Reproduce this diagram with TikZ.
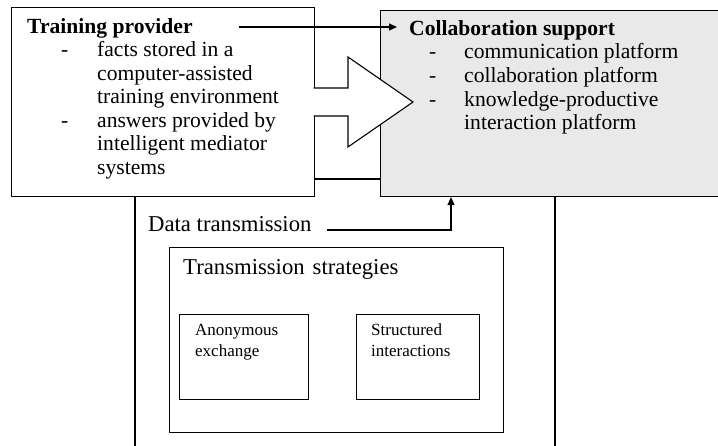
\documentclass[tikz,border=0pt]{standalone}
\usepackage{fontspec}
\setmainfont{Liberation Serif}
\usetikzlibrary{arrows.meta}
\definecolor{panelgray}{HTML}{E9E9E9}
\begin{document}
\begin{tikzpicture}[x=1pt,y=-1pt,
  box/.style={draw, line width=1.1pt, inner sep=0pt, anchor=north west},
  txt/.style={anchor=base west, inner sep=0pt, font=\fontsize{21.6}{23.5}\selectfont},
  big/.style={anchor=base west, inner sep=0pt, font=\fontsize{22.7}{25}\selectfont},
  small/.style={anchor=base west, inner sep=0pt, font=\fontsize{17}{21}\selectfont},
  line/.style={line width=1.1pt},
  arr/.style={line width=1.1pt, -{Triangle[length=8pt,width=7pt]}}]
\useasboundingbox (0,0) rectangle (718,446);

% main panels
\node[box, minimum width=303pt, minimum height=189pt] (train) at (11,7) {};
\node[box, fill=panelgray, minimum width=345pt, minimum height=186pt] (collab) at (380,10) {};

% frame of the data transmission layer
\coordinate (lx) at (135,0);
\coordinate (rx) at (555,0);
\draw[line] (train.south -| lx) -- (135,470);
\draw[line] (collab.south -| rx) -- (555,470);

% link between the two panels
\coordinate (ly) at (0,179);
\draw[line] (train.east |- ly) -- (collab.west |- ly);

% block arrow from provider to support
\fill[white] (312,88) -- (348,88) -- (348,57) -- (413,102) -- (348,147) -- (348,116) -- (312,116) -- cycle;
\draw[line, line join=miter] (313.5,88) -- (348,88) -- (348,57) -- (413,102) -- (348,147) -- (348,116) -- (313.5,116);

% training provider text
\node[txt] (tptitle) at (27,34) {\bfseries Training provider};
\node[txt] (tpd1) at (61,57) {-};
\node[txt] (tp1) at (97,57) {facts stored in a};
\node[txt] (tp2) at (97,80.5) {computer-assisted};
\node[txt] (tp3) at (97,104) {training environment};
\node[txt] (tpd2) at (61,127.5) {-};
\node[txt] (tp4) at (97,127.5) {answers provided by};
\node[txt] (tp5) at (97,151) {intelligent mediator};
\node[txt] (tp6) at (97,174.5) {systems};

% collaboration support text
\node[txt] (cstitle) at (409,36) {\bfseries Collaboration support};
\node[txt] (csd1) at (429,59) {-};
\node[txt] (cs1) at (464,59) {communication platform};
\node[txt] (csd2) at (429,83) {-};
\node[txt] (cs2) at (464,83) {collaboration platform};
\node[txt] (csd3) at (429,106.5) {-};
\node[txt] (cs3) at (464,106.5) {knowledge-productive};
\node[txt] (cs4) at (464,130) {interaction platform};

% title arrow
\coordinate (s1) at (239,27);
\draw[arr, shorten >=12pt] (s1) -- (cstitle.west |- s1);

% data transmission
\node[big] (data) at (148,232) {Data transmission};
\coordinate (d1) at (327,230);
\coordinate (d2) at (451,230);
\draw[arr] (d1) -- (d2) -- (collab.south -| d2);

% transmission strategies
\node[box, minimum width=334pt, minimum height=185pt] (strat) at (169,247) {};
\node[big] (strattitle) at (183,275) {Transmission\hspace{8pt}strategies};
\node[box, minimum width=129pt, minimum height=85pt] (anon) at (179,314) {};
\node[box, minimum width=123pt, minimum height=85pt] (struc) at (356,314) {};
\node[small] (an1) at (195,336) {Anonymous};
\node[small] (an2) at (195,357) {exchange};
\node[small] (st1) at (371,336) {Structured};
\node[small] (st2) at (371,357) {interactions};
\end{tikzpicture}
\end{document}
